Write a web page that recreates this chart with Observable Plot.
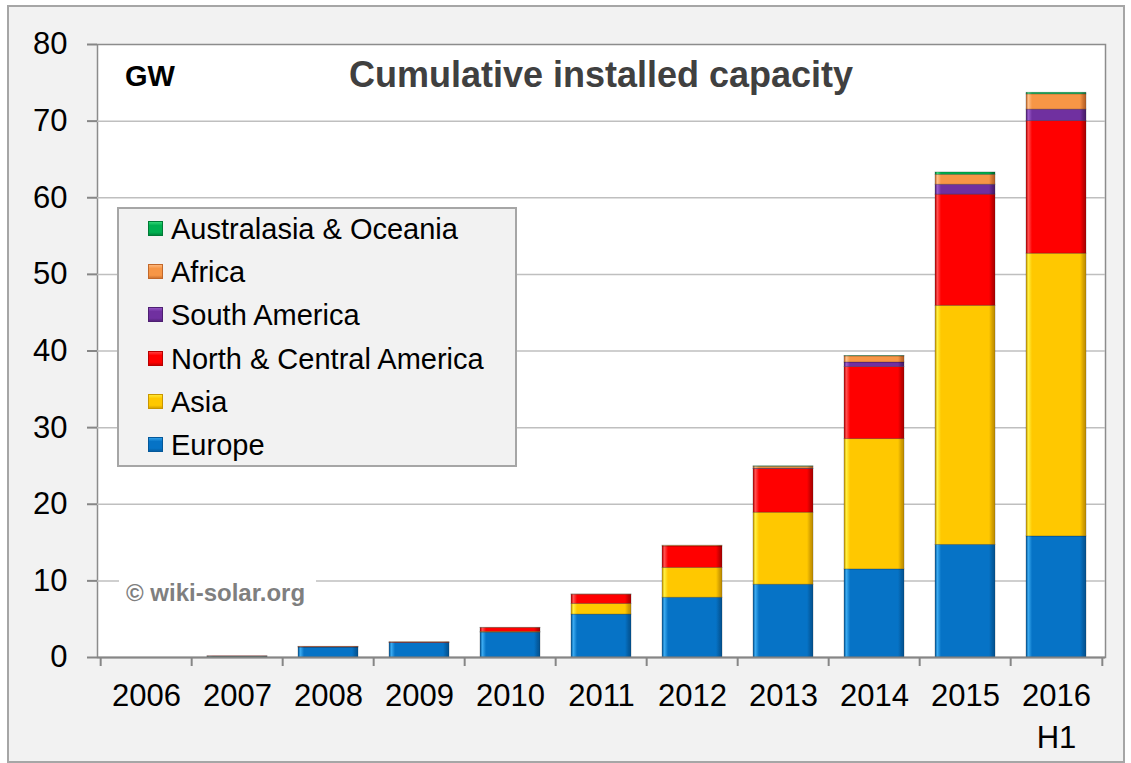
<!DOCTYPE html>
<html>
<head>
<meta charset="utf-8">
<script src="https://cdn.jsdelivr.net/npm/d3@7"></script>
<script src="https://cdn.jsdelivr.net/npm/@observablehq/plot@0.6"></script>
<style>
  html, body { margin: 0; padding: 0; background: #ffffff; }
  #wrap { position: relative; width: 1131px; height: 763px; overflow: hidden; font-family: "Liberation Sans", Arial, sans-serif; }
  #outer { position: absolute; left: 7px; top: 5px; width: 1114px; height: 754px; border: 2px solid #a6a6a6; background: #f2f2f2; }
  #chart { position: absolute; left: 0; top: 0; }
  .lbl { position: absolute; line-height: 1; white-space: nowrap; }
  #title { left: 97px; width: 1008px; top: 57px; text-align: center; font-size: 36px; font-weight: bold; color: #404040; }
  #gw { left: 125px; top: 62px; font-size: 29px; font-weight: bold; color: #000; }
  #wmbox { position: absolute; left: 119px; top: 570px; width: 197px; height: 42px; background: #ffffff; }
  #wm { left: 126px; top: 581px; font-size: 24px; font-weight: bold; color: #7f7f7f; }
  #legend { position: absolute; left: 117px; top: 207px; width: 396px; height: 256px; border: 2px solid #a6a6a6; background: #f2f2f2; }
  .item { position: absolute; left: 0; height: 30px; }
  .sw { position: absolute; left: 29px; top: 7px; width: 15px; height: 15px; }
  .txt { position: absolute; left: 52px; top: 0; font-size: 29px; line-height: 30px; color: #000; white-space: nowrap; }
</style>
</head>
<body>
<svg width="0" height="0" style="position:absolute">
  <defs id="defs"></defs>
</svg>
<div id="wrap">
  <div id="outer"></div>
  <div id="chart"></div>
  <div id="wmbox"></div>
  <div id="title" class="lbl">Cumulative installed capacity</div>
  <div id="gw" class="lbl">GW</div>
  <div id="wm" class="lbl">© wiki-solar.org</div>
  <div id="legend"></div>
</div>
<script>
// ---- data (GW, cumulative installed capacity by region) ----
const years = ["2006", "2007", "2008", "2009", "2010", "2011", "2012", "2013", "2014", "2015", "2016\nH1"];
const regions = ["Europe", "Asia", "North & Central America", "South America", "Africa", "Australasia & Oceania"];
const europe  = [0, 0.1, 1.3, 1.9, 3.25, 5.6, 7.8, 9.5, 11.5, 14.7, 15.8];
const asia    = [0, 0.03, 0, 0, 0.1, 1.4, 3.9, 9.4, 17.0, 31.2, 36.9];
const northAm = [0, 0.02, 0.05, 0.05, 0.5, 1.2, 2.8, 5.7, 9.4, 14.5, 17.3];
const southAm = [0, 0, 0, 0, 0, 0, 0, 0.05, 0.6, 1.3, 1.5];
const africa  = [0, 0, 0.05, 0.05, 0.03, 0.03, 0.1, 0.25, 0.8, 1.3, 2.0];
const oceania = [0, 0, 0, 0, 0, 0, 0, 0.05, 0.05, 0.3, 0.2];
const yTicks = [0, 10, 20, 30, 40, 50, 60, 70, 80];

// colours: [dark edge, light edge, base]
const palette = [
  ["#04589a", "#3aaaf0", "#0673c6"],
  ["#c99600", "#fff040", "#ffc800"],
  ["#b80000", "#ff5050", "#ff0000"],
  ["#4e1f72", "#9a5ccc", "#7030a0"],
  ["#c2682a", "#ffc08a", "#f79646"],
  ["#007a36", "#40e080", "#00b050"]
];

const series = [europe, asia, northAm, southAm, africa, oceania];
const table = [];
years.forEach((yr, i) => {
  regions.forEach((r, j) => {
    const v = series[j][i];
    if (v > 0) table.push({year: yr, region: r, value: v});
  });
});

// gradient definitions for a bevelled look
const defs = document.getElementById("defs");
palette.forEach((c, i) => {
  const g = document.createElementNS("http://www.w3.org/2000/svg", "linearGradient");
  g.setAttribute("id", "g" + i);
  g.setAttribute("x1", "0"); g.setAttribute("x2", "1");
  g.setAttribute("y1", "0"); g.setAttribute("y2", "0");
  [[0, c[0]], [0.04, c[1]], [0.1, c[2]], [0.9, c[2]], [0.97, c[0]], [1, c[0]]].forEach(([o, col]) => {
    const s = document.createElementNS("http://www.w3.org/2000/svg", "stop");
    s.setAttribute("offset", o);
    s.setAttribute("stop-color", col);
    g.appendChild(s);
  });
  defs.appendChild(g);
});

const W = 1131, H = 763, mL = 97, mR = 26, mT = 44, mB = 106;
const step = (W - mL - mR) / years.length;
const axisGray = "#868686";

const chart = Plot.plot({
  width: W, height: H,
  marginLeft: mL, marginRight: mR, marginTop: mT, marginBottom: mB,
  style: {background: "transparent", fontFamily: "'Liberation Sans', Arial, sans-serif", color: "#000", overflow: "visible"},
  x: {domain: years, paddingInner: 0.345, paddingOuter: 0.1725, label: null},
  y: {domain: [0, 80], label: null},
  color: {domain: regions, range: regions.map((r, i) => `url(#g${i})`)},
  marks: [
    Plot.frame({fill: "white", stroke: "#8c8c8c", strokeWidth: 1.5}),
    Plot.gridY(yTicks.slice(1, -1), {stroke: "#bfbfbf", strokeOpacity: 1, strokeWidth: 1.5}),
    Plot.barY(table, {x: "year", y: "value", fill: "region", order: regions, stroke: "rgba(0,0,0,0.28)", strokeWidth: 0.8}),
    Plot.ruleY([0], {stroke: axisGray, strokeWidth: 2}),
    Plot.axisY({ticks: yTicks, tickSize: 10, tickPadding: 20, fontSize: 31, stroke: axisGray, strokeWidth: 2, fill: "#000"}),
    Plot.axisX({tickSize: 0, tickPadding: 19, fontSize: 31, lineHeight: 1.35, fill: "#000"}),
    Plot.ruleX(years, {x: d => d, y1: 0, y2: 0, dx: -step / 2, insetBottom: -9, stroke: axisGray, strokeWidth: 2}),
    Plot.ruleX(years.slice(-1), {x: d => d, y1: 0, y2: 0, dx: step / 2, insetBottom: -9, stroke: axisGray, strokeWidth: 2})
  ]
});
document.getElementById("chart").appendChild(chart);

// legend (top entry is last series)
const legend = document.getElementById("legend");
const rowCenters = [20, 63.2, 106.4, 149.6, 192.8, 236];
regions.slice().reverse().forEach((r, k) => {
  const idx = regions.indexOf(r);
  const c = palette[idx];
  const item = document.createElement("div");
  item.className = "item";
  item.style.top = (rowCenters[k] - 15) + "px";
  const sw = document.createElement("div");
  sw.className = "sw";
  sw.style.background = `linear-gradient(180deg, ${c[1]} 0%, ${c[2]} 30%, ${c[2]} 75%, ${c[0]} 100%)`;
  sw.style.boxShadow = `inset 0 0 0 1px ${c[0]}`;
  const t = document.createElement("div");
  t.className = "txt";
  t.textContent = r;
  item.appendChild(sw);
  item.appendChild(t);
  legend.appendChild(item);
});
</script>
</body>
</html>
